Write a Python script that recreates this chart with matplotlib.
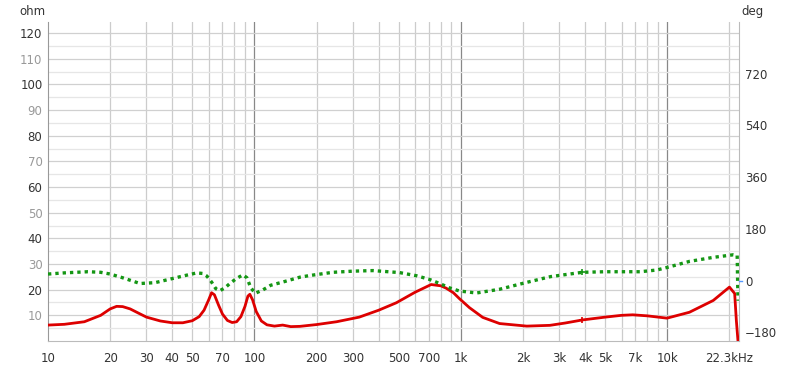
import numpy as np
import matplotlib.pyplot as plt
from matplotlib.ticker import FixedLocator, NullFormatter

# impedance curve (ohm)
f_z = [10, 12, 15, 18, 20, 21.5, 23, 25, 28, 30, 35, 40, 45, 50, 54, 57, 60, 62, 64, 67,
       70, 74, 78, 82, 86, 90, 93, 95, 98, 102, 108, 115, 125, 137, 150, 166, 200, 250,
       322, 400, 487, 600, 718, 800, 848, 920, 984, 1100, 1276, 1540, 2086, 2700, 3200,
       3880, 5000, 6000, 6800, 8000, 9970, 12800, 16700, 20000, 21200, 21600, 22000]
z = [6.2, 6.5, 7.5, 10, 12.5, 13.5, 13.4, 12.5, 10.5, 9.3, 7.8, 7.1, 7.1, 7.9, 9.5, 12,
     16, 18.8, 18, 14, 10.5, 8, 7.2, 7.5, 9.5, 13.5, 17.5, 18.2, 16, 11.5, 7.8, 6.3, 5.8,
     6.2, 5.6, 5.7, 6.4, 7.5, 9.3, 12, 14.9, 19, 22, 21.5, 20.6, 18.8, 16.5, 13, 9.2, 6.8,
     5.8, 6.1, 7, 8.2, 9.3, 10, 10.2, 9.8, 8.9, 11.2, 15.8, 21, 18.5, 8, 0]

# phase curve (deg)
f_p = [10, 12, 15.6, 18, 20, 23, 27.9, 33, 38.9, 45, 52.6, 56, 58.8, 62, 65, 68, 72, 76,
       82, 88, 92, 96, 101, 110, 120, 137, 166, 186, 240, 300, 375, 505, 610, 700, 790,
       880, 984, 1190, 1540, 2086, 2720, 3880, 5000, 7400, 8900, 10000, 12800, 16700,
       20900, 21800, 22000]
phase = [23, 27, 31, 29, 23, 10, -10, -7, 5, 16, 27, 25, 16, -5, -28, -35, -25, -10, 8,
         20, 10, -25, -44, -32, -16, -5, 12, 18, 29, 33, 35, 28, 17, 5, -10, -25, -36, -43,
         -30, -6, 14, 29, 31, 31, 37, 46, 67, 81, 90, 88, -70]

x_ticks = [10, 20, 30, 40, 50, 70, 100, 200, 300, 500, 700, 1000, 2000, 3000, 4000,
           5000, 7000, 10000, 20000]
x_labels = ['10', '20', '30', '40', '50', '70', '100', '200', '300', '500', '700', '1k',
            '2k', '3k', '4k', '5k', '7k', '10k', '22.3kHz']
deg_ticks = [-180, 0, 180, 360, 540, 720]

fig = plt.figure(figsize=(8, 3.69), dpi=100)
ax = fig.add_axes([0.06, 0.0759, 0.864, 0.8645])
ax.set_xscale('log')
ax.set_xlim(10, 22300)
ax.set_ylim(0, 124.3)

# vertical grid
for dec in [10, 100, 1000, 10000]:
    for m in range(1, 10):
        f = dec * m
        if f <= 10 or f > 22300:
            continue
        col = '#888888' if m == 1 else '#cccccc'
        ax.axvline(f, color=col, lw=0.9, zorder=0)
# horizontal grid
for v in range(5, 125, 5):
    col = '#d0d0d0' if v % 10 == 0 else '#e6e6e6'
    ax.axhline(v, color=col, lw=0.9, zorder=0)

ax.xaxis.set_major_locator(FixedLocator(x_ticks))
ax.xaxis.set_minor_locator(FixedLocator([]))
ax.xaxis.set_minor_formatter(NullFormatter())
ax.set_xticklabels(x_labels)
ax.tick_params(axis='x', length=0, pad=8, labelsize=8.5, labelcolor='#333333')
ax.set_yticks(range(10, 121, 10))
ax.tick_params(axis='y', length=0, pad=4, labelsize=8.5)
for lab, v in zip(ax.get_yticklabels(), range(10, 121, 10)):
    lab.set_color('#333333' if v % 20 == 0 else '#999999')

for s in ['top']:
    ax.spines[s].set_visible(False)
ax.spines['left'].set_color('#999999')
ax.spines['bottom'].set_color('#bbbbbb')
ax.spines['right'].set_color('#bbbbbb')

ax.plot(f_z, z, color='#dd0000', lw=2, zorder=3, clip_on=True)
ax.plot([f_z[53]], [z[53]], marker='+', color='#dd0000', ms=4, mew=1.2, zorder=4)

ax2 = ax.twinx()
ax2.set_ylim(-210, 900)
ax2.set_yticks(deg_ticks)
ax2.tick_params(axis='y', length=0, pad=4, labelsize=8.5, labelcolor='#333333')
for s in ['top', 'left', 'bottom', 'right']:
    ax2.spines[s].set_visible(False)
ax2.plot(f_p, phase, color='#149614', lw=2.4, ls=(0, (1, 1.2)), zorder=3)
ax2.plot([f_p[41]], [phase[41]], marker='+', color='#149614', ms=4, mew=1.2, zorder=4)
ax2.plot([22300, 22300 * 1.035], [0, 0], color='#5599ff', lw=1, clip_on=False)

fig.text(0.04, 0.97, 'ohm', fontsize=8.5, color='#333333', ha='center', va='center')
fig.text(0.94, 0.97, 'deg', fontsize=8.5, color='#333333', ha='center', va='center')

fig.savefig('out.png', dpi=100)
